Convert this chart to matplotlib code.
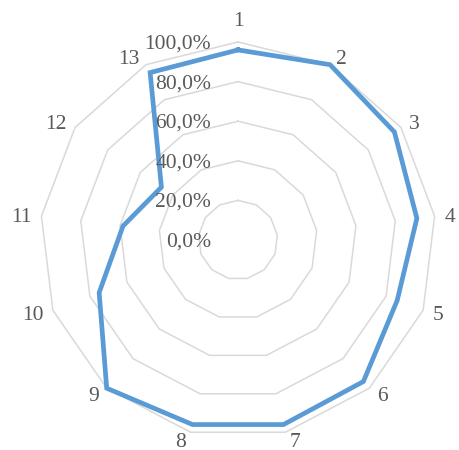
import numpy as np
import matplotlib
matplotlib.use('Agg')
import matplotlib.pyplot as plt

categories = ['1', '2', '3', '4', '5', '6', '7', '8', '9', '10', '11', '12', '13']
values = [0.96, 1.00, 0.96, 0.91, 0.86, 0.955, 0.96, 0.96, 1.00, 0.75, 0.585, 0.47, 0.955]
rings = [0.0, 0.2, 0.4, 0.6, 0.8, 1.0]
ring_labels = ['0,0%', '20,0%', '40,0%', '60,0%', '80,0%', '100,0%']

txt_color = '#595959'
grid_color = '#d9d9d9'
line_color = '#5b9bd5'
fs = 15.5
px = 72 / 100  # points per pixel
plt.rcParams['font.family'] = ['Liberation Serif', 'DejaVu Serif']

n = len(categories)
theta = np.arange(n) * 2 * np.pi / n
theta_c = np.append(theta, theta[0])

fig = plt.figure(figsize=(4.6, 4.5), dpi=100)
ax = fig.add_axes([40 / 460, 12 / 450, 396 / 460, 396 / 450], projection='polar')
ax.set_theta_offset(np.pi / 2)
ax.set_theta_direction(-1)
ax.set_ylim(0, 1)
ax.set_xticks([])
ax.set_yticks([])
ax.grid(False)
ax.spines['polar'].set_visible(False)
ax.patch.set_visible(False)

# polygon grid
for r in rings[1:]:
    ax.plot(theta_c, [r] * (n + 1), color=grid_color, lw=1.1, clip_on=False, zorder=1)

# data
vals_c = values + values[:1]
ax.plot(theta_c, vals_c, color=line_color, lw=3.4, solid_joinstyle='miter',
        clip_on=False, zorder=3)

# ring labels
for r, lab in zip(rings, ring_labels):
    ax.annotate(lab, (0, r), xytext=(-27 * px, -2 * px), textcoords='offset points',
                ha='right', va='center', fontsize=fs, color=txt_color,
                annotation_clip=False, zorder=4)

# category labels (offsets in pixels from the outer vertex)
for t, lab in zip(theta, categories):
    s, c = np.sin(t), np.cos(t)
    dx = np.sign(s) * (2.5 + 5.5 * len(lab) + 7 * abs(s)) if abs(s) > 0.05 else 0
    dy = 22 if abs(s) < 0.05 else 8 * c
    ax.annotate(lab, (t, 1.0), xytext=(dx * px, (dy - 2) * px), textcoords='offset points',
                ha='center', va='center', fontsize=fs, color=txt_color,
                annotation_clip=False, zorder=4)

fig.savefig('out.png', dpi=100)
